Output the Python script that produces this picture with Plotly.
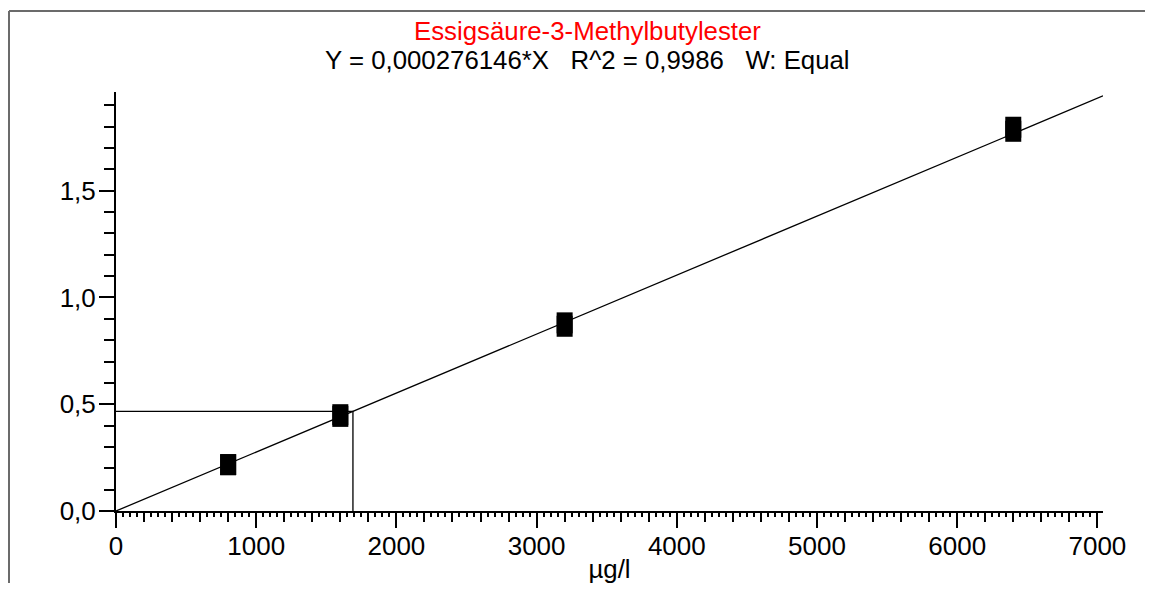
import plotly.graph_objects as go

# --- data ---
conc_levels = [800, 800, 1600, 1600, 3200, 3200, 6400, 6400]
responses = [0.217, 0.217, 0.451, 0.443, 0.881, 0.865, 1.797, 1.778]
slope = 0.000276146
line_x = [0, 7040]
sample_conc = 1690
sample_resp = 0.4667
title_text = "Essigsäure-3-Methylbutylester"
subtitle_text = "Y = 0,000276146*X&nbsp;&nbsp;&nbsp;R^2 = 0,9986&nbsp;&nbsp;&nbsp;W: Equal"
x_title = "µg/l"

FONT = "Liberation Sans, Arial, sans-serif"
OFF = 8  # default page body margin
W, H = 1153 - 2 * OFF, 597 - 2 * OFF - 6
# plot area in page pixels: left 116, right 1103, top 92, bottom 511
ML = 116 - OFF
MT = 92 - OFF
MR = W - (1103 - OFF)
MB = H - (511 - OFF)
pw = W - ML - MR
ph = H - MT - MB

def px_x(p):
    return (p - OFF - ML) / pw

def px_y(p):
    return (H - MB - (p - OFF)) / ph

fig = go.Figure()

# regression line (on overlay axis so the medium ticks render)
fig.add_trace(go.Scatter(
    x=line_x, y=[slope * v for v in line_x], mode="lines",
    line=dict(color="black", width=1.3), xaxis="x2", yaxis="y",
    hoverinfo="skip", showlegend=False))

# sample interpolation lines
fig.add_trace(go.Scatter(
    x=[0, sample_conc, sample_conc], y=[sample_resp, sample_resp, 0],
    mode="lines", line=dict(color="black", width=1.3),
    hoverinfo="skip", showlegend=False))

# calibration points (rectangles)
fig.add_trace(go.Scatter(
    x=conc_levels, y=responses, mode="markers",
    marker=dict(symbol="line-ns", size=15, color="black",
                line=dict(color="black", width=16)),
    showlegend=False))

axis_common = dict(showgrid=False, zeroline=False, showline=True,
                   linecolor="black", linewidth=2, ticks="outside",
                   tickcolor="black", tickwidth=1.5, automargin=False,
                   tickfont=dict(family=FONT, size=26, color="black"))

frame_style = dict(color="#6b6b6b", width=2)

fig.update_layout(
    width=W, height=H,
    margin=dict(l=ML, r=MR, t=MT, b=MB, autoexpand=False),
    paper_bgcolor="white", plot_bgcolor="white",
    separators=",.",
    font=dict(family=FONT, color="black"),
    xaxis=dict(range=[0, 7040], tick0=0, dtick=1000, ticklen=15,
               ticklabelstandoff=-4,
               minor=dict(dtick=50, tick0=0, ticklen=4, ticks="outside",
                          tickcolor="black", tickwidth=1.5),
               title=dict(text=x_title, font=dict(family=FONT, size=25.8, color="black"),
                          standoff=11),
               **axis_common),
    xaxis2=dict(range=[0, 7040], overlaying="x", anchor="y", side="bottom",
                showgrid=False, zeroline=False, showline=False, automargin=False,
                ticks="outside", tick0=0, dtick=200, ticklen=10,
                tickcolor="black", tickwidth=1.5, showticklabels=False),
    yaxis=dict(range=[0, 1.962], tick0=0, dtick=0.5, ticklen=15,
               tickformat=".1f", ticklabelstandoff=-2,
               minor=dict(dtick=0.1, tick0=0, ticklen=10, ticks="outside",
                          tickcolor="black", tickwidth=1.5),
               **axis_common),
    annotations=[
        dict(text=title_text, xref="paper", yref="paper",
             x=px_x(587.5), y=px_y(31), xanchor="center", yanchor="middle",
             showarrow=False, font=dict(family=FONT, size=25.8, color="#ff0000")),
        dict(text=subtitle_text, xref="paper", yref="paper",
             x=px_x(587.5), y=px_y(60), xanchor="center", yanchor="middle",
             showarrow=False, font=dict(family=FONT, size=25.8, color="black")),
    ],
    shapes=[
        dict(type="line", xref="paper", yref="paper",
             x0=px_x(9), x1=px_x(1250), y0=px_y(11), y1=px_y(11),
             line=frame_style, layer="below"),
        dict(type="line", xref="paper", yref="paper",
             x0=px_x(9), x1=px_x(9), y0=px_y(11), y1=px_y(680),
             line=frame_style, layer="below"),
    ],
)

fig.write_html("out.html")
